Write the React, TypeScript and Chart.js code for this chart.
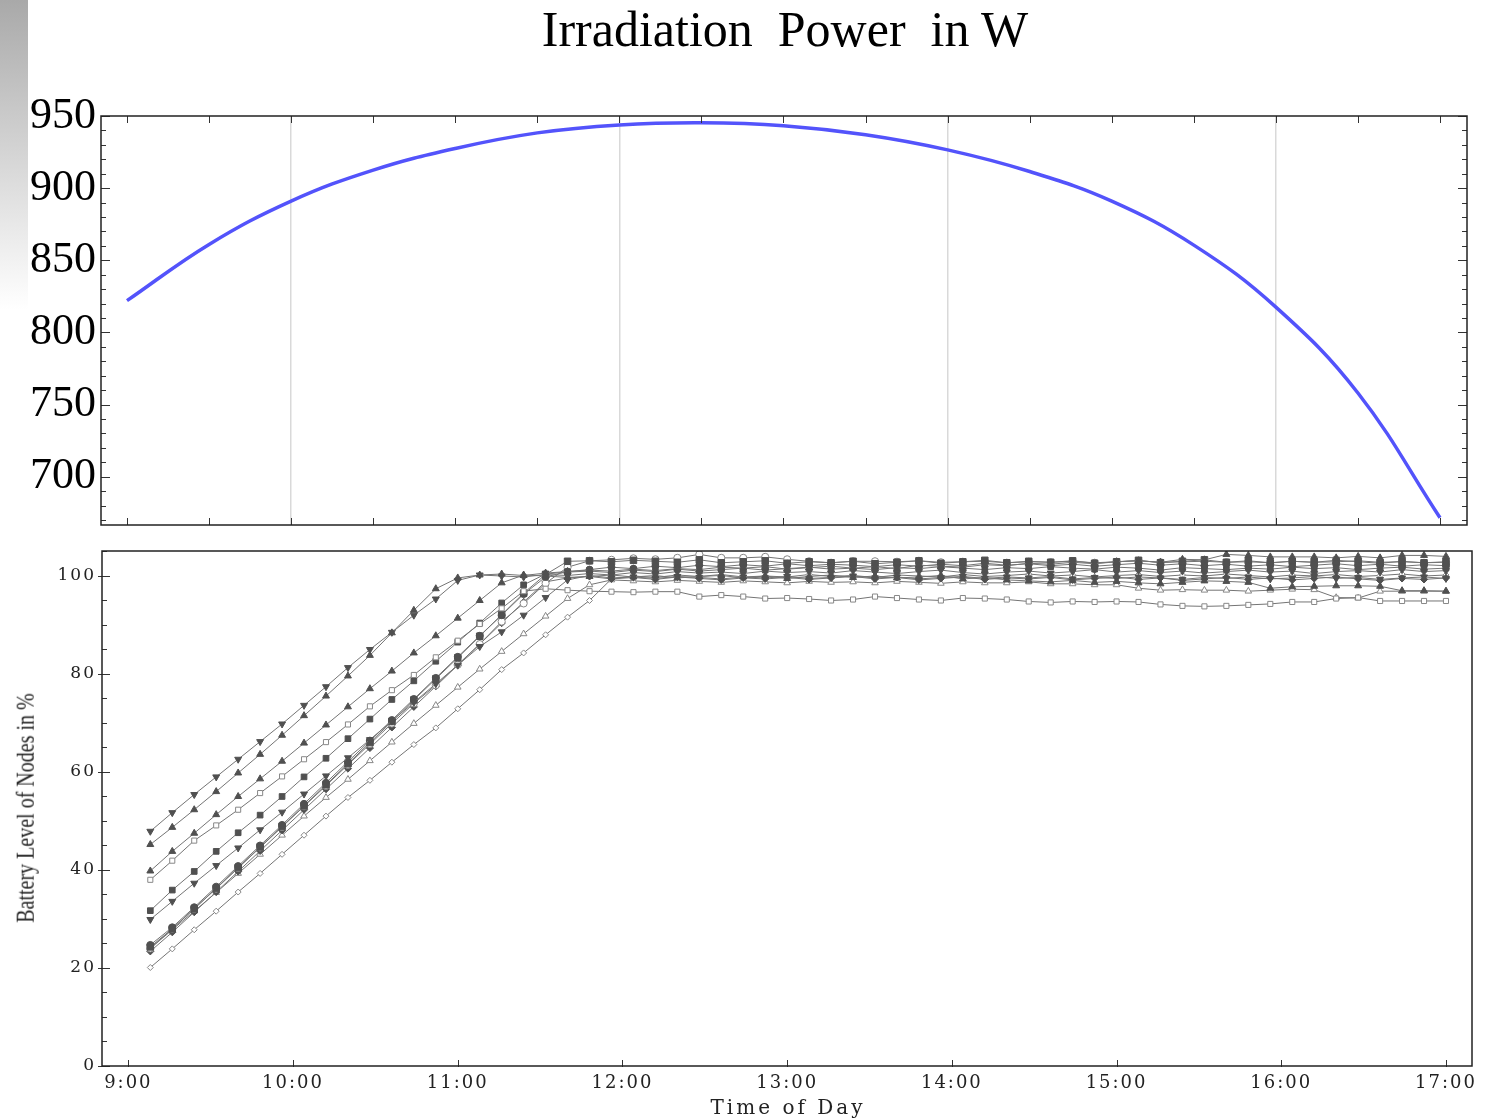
import React, { useEffect, useRef } from "react";
import { Chart, registerables } from "chart.js";

Chart.register(...registerables);

// ---------- Top chart: irradiation power ----------
const POWER_TIMES = ["9:00", "9:30", "10:00", "10:30", "11:00", "11:30", "12:00", "12:30", "13:00", "13:30", "14:00", "14:30", "15:00", "15:30", "16:00", "16:30", "17:00"];
const POWER_W = [822, 861, 891, 912.5, 927.5, 938.3, 943.8, 945.3, 943.3, 937, 926.5, 911.5, 891, 860.5, 817.5, 758, 671.5];
const POWER_Y_LABELS = [700, 750, 800, 850, 900, 950];
const POWER_GRID_HOURS = [10, 12, 14, 16];

// ---------- Bottom chart: battery levels ----------
const HOUR_TICKS = [9, 10, 11, 12, 13, 14, 15, 16, 17];
const HOUR_LABELS = ["9:00", "10:00", "11:00", "12:00", "13:00", "14:00", "15:00", "16:00", "17:00"];
const BATTERY_Y_LABELS = [0, 20, 40, 60, 80, 100];

const SAMPLE_TIMES = [
  "9:08", "9:16", "9:24", "9:32", "9:40", "9:48", "9:56", "10:04", "10:12", "10:20",
  "10:28", "10:36", "10:44", "10:52", "11:00", "11:08", "11:16", "11:24", "11:32", "11:40",
  "11:48", "11:56", "12:04", "12:12", "12:20", "12:28", "12:36", "12:44", "12:52", "13:00",
  "13:08", "13:16", "13:24", "13:32", "13:40", "13:48", "13:56", "14:04", "14:12", "14:20",
  "14:28", "14:36", "14:44", "14:52", "15:00", "15:08", "15:16", "15:24", "15:32", "15:40",
  "15:48", "15:56", "16:04", "16:12", "16:20", "16:28", "16:36", "16:44", "16:52", "17:00",
];

const NODE_A = [
  45.2, 48.7, 52.3, 56.0, 59.8, 63.6, 67.5, 71.5, 75.5, 79.6,
  83.8, 88.4, 93.0, 97.4, 99.6, 100.2, 100.4, 100.1, 100.6, 100.9,
  101.2, 101.0, 101.4, 101.1, 101.5, 101.3, 101.8, 101.6, 101.9, 101.4,
  101.7, 102.0, 101.6, 101.9, 101.5, 102.2, 102.0, 101.8, 102.3, 102.1,
  102.6, 102.4, 102.8, 102.5, 102.9, 103.1, 102.8, 103.4, 103.3, 104.4,
  104.2, 103.9, 103.9, 103.9, 103.7, 104.0, 103.7, 104.2, 104.2, 104.0,
];
const NODE_B = [
  47.9, 51.7, 55.4, 59.0, 62.6, 66.2, 69.8, 73.6, 77.4, 81.3,
  85.0, 88.5, 92.0, 95.3, 99.1, 100.2, 100.0, 99.8, 100.3, 100.1,
  100.5, 100.2, 100.7, 100.4, 100.9, 100.6, 100.8, 100.5, 101.0, 100.7,
  100.9, 100.6, 101.1, 100.8, 100.5, 100.9, 101.2, 100.7, 100.4, 100.8,
  101.0, 100.6, 100.9, 101.3, 100.8, 101.1, 100.7, 101.0, 100.6, 100.9,
  101.2, 100.8, 101.0, 100.5, 100.9, 101.1, 100.8, 101.3, 100.9, 101.1,
];
const NODE_C = [
  39.8, 43.8, 47.5, 51.3, 55.0, 58.6, 62.2, 65.9, 69.6, 73.3,
  77.0, 80.6, 84.3, 87.8, 91.4, 95.0, 98.6, 100.2, 100.0, 99.7,
  99.9, 100.2, 99.8, 100.1, 99.6, 99.9, 100.3, 99.8, 100.0, 99.5,
  99.9, 100.2, 99.7, 100.0, 99.6, 99.8, 100.1, 99.4, 99.7, 99.2,
  99.0, 98.8, 99.1, 98.7, 98.9, 98.6, 98.4, 98.7, 99.0, 98.9,
  98.7, 97.5, 97.8, 97.9, 98.0, 98.0, 97.9, 97.0, 97.0, 96.9,
];
const NODE_D = [
  38.0, 41.9, 46.0, 49.1, 52.3, 55.7, 59.1, 62.6, 66.1, 69.7,
  73.4, 76.7, 79.8, 83.4, 86.8, 90.2, 93.4, 96.9, 97.4, 97.1,
  96.9, 96.8, 96.7, 96.8, 96.8, 95.8, 96.1, 95.8, 95.4, 95.5,
  95.3, 95.0, 95.2, 95.8, 95.5, 95.2, 95.0, 95.5, 95.4, 95.2,
  94.8, 94.6, 94.8, 94.7, 94.8, 94.7, 94.2, 93.9, 93.8, 93.9,
  94.1, 94.3, 94.7, 94.7, 95.4, 95.6, 94.9, 94.9, 94.9, 94.9,
];
const NODE_E = [
  31.7, 35.9, 39.7, 43.8, 47.6, 51.2, 55.0, 59.0, 62.8, 66.8,
  70.8, 74.8, 78.6, 82.6, 86.5, 90.4, 94.5, 98.2, 100.4, 100.8,
  101.0, 100.7, 101.2, 100.9, 101.4, 101.0, 101.3, 101.6, 101.2, 101.5,
  101.8, 101.4, 101.6, 101.3, 101.7, 101.5, 101.9, 101.6, 101.3, 101.7,
  101.5, 101.9, 101.6, 101.4, 101.8, 101.6, 101.2, 101.7, 101.5, 101.3,
  101.6, 101.4, 101.8, 101.5, 101.7, 101.3, 101.6, 101.8, 101.4, 101.6,
];
const NODE_F = [
  29.9, 33.6, 37.3, 40.9, 44.5, 48.2, 51.8, 55.5, 59.2, 62.9,
  66.6, 70.4, 74.2, 78.0, 81.8, 85.6, 88.6, 92.0, 95.6, 99.2,
  100.1, 99.6, 99.8, 99.5, 99.9, 99.7, 99.4, 99.8, 99.6, 99.9,
  99.5, 99.7, 100.0, 99.6, 99.8, 99.4, 99.7, 99.9, 99.5, 99.8,
  99.6, 99.9, 99.4, 99.7, 99.5, 99.8, 99.6, 99.3, 99.7, 99.5,
  99.8, 99.4, 99.6, 99.9, 99.5, 99.7, 99.3, 99.6, 99.8, 99.5,
];
const NODE_G = [
  24.7, 28.3, 32.4, 36.6, 40.8, 45.0, 49.2, 53.5, 57.8, 62.1,
  66.4, 70.6, 74.9, 79.2, 83.5, 87.8, 92.0, 96.3, 99.8, 100.9,
  101.3, 101.8, 101.5, 102.0, 101.7, 102.2, 101.9, 102.3, 102.0, 102.5,
  102.1, 102.4, 102.2, 101.9, 102.3, 102.0, 102.4, 102.1, 102.6, 102.2,
  102.5, 102.1, 102.4, 102.0, 102.3, 102.6, 102.2, 102.5, 102.1, 102.4,
  102.0, 102.3, 101.9, 102.2, 102.5, 102.1, 102.4, 102.0, 102.3, 102.1,
];
const NODE_H = [
  24.3, 28.0, 32.1, 36.3, 40.5, 44.7, 48.9, 53.1, 57.4, 61.7,
  66.0, 70.3, 74.7, 79.0, 83.3, 87.7, 92.1, 96.5, 100.3, 103.0,
  103.1, 102.9, 103.2, 103.0, 102.8, 103.3, 102.7, 102.9, 103.1, 102.6,
  102.9, 102.7, 103.0, 102.5, 102.8, 103.1, 102.6, 102.9, 103.2, 102.7,
  103.0, 102.8, 103.1, 102.6, 102.9, 103.2, 102.7, 103.0, 103.3, 102.8,
  103.1, 102.7, 103.0, 102.8, 103.2, 102.9, 102.6, 103.0, 102.7, 102.9,
];
const NODE_I = [
  24.0, 28.0, 32.1, 36.2, 40.4, 44.6, 48.8, 53.0, 57.2, 61.5,
  65.7, 69.9, 74.0, 77.7, 81.9, 86.1, 90.7, 94.4, 98.5, 101.8,
  103.1, 103.3, 103.6, 103.4, 103.7, 104.4, 103.7, 103.7, 103.9, 103.4,
  103.0, 102.7, 103.0, 103.0, 102.9, 103.1, 102.8, 102.9, 103.0, 102.7,
  102.9, 102.8, 103.0, 102.7, 102.9, 103.1, 102.8, 102.9, 103.0, 102.8,
  102.9, 102.7, 103.0, 102.8, 102.9, 103.1, 102.8, 102.9, 102.7, 102.8,
];
const NODE_J = [
  23.4, 27.3, 31.4, 35.5, 39.7, 43.9, 48.1, 52.3, 56.5, 60.7,
  64.9, 69.1, 73.3, 77.5, 81.8, 86.1, 90.4, 94.7, 98.8, 99.6,
  99.9, 99.4, 99.7, 99.3, 99.8, 99.5, 99.2, 99.6, 99.4, 99.7,
  99.3, 99.6, 99.9, 99.4, 99.7, 99.2, 99.5, 99.8, 99.3, 99.6,
  99.4, 99.7, 99.2, 99.5, 99.8, 99.3, 99.6, 99.1, 99.4, 99.7,
  99.3, 99.6, 99.2, 99.5, 99.8, 99.4, 99.1, 99.5, 99.3, 99.6,
];
const NODE_K = [
  24.0, 27.8, 31.6, 35.4, 39.3, 43.2, 47.1, 51.0, 54.8, 58.5,
  62.3, 66.1, 69.9, 73.6, 77.3, 81.0, 84.6, 88.2, 91.8, 95.4,
  98.2, 99.2, 99.0, 98.8, 99.1, 98.9, 98.7, 99.0, 98.8, 98.6,
  98.9, 98.7, 98.8, 98.6, 98.9, 98.7, 98.5, 98.8, 98.6, 98.6,
  98.8, 98.4, 98.4, 98.2, 98.2, 97.5, 97.1, 97.2, 97.1, 97.1,
  96.9, 97.1, 97.3, 97.2, 95.6, 95.5, 96.9, 96.9, 96.9, 96.9,
];
const NODE_L = [
  20.1, 23.9, 27.8, 31.6, 35.5, 39.3, 43.2, 47.1, 51.0, 54.8,
  58.3, 62.0, 65.6, 69.0, 72.9, 76.8, 80.9, 84.3, 88.0, 91.6,
  95.0, 99.4, 100.0, 99.7, 100.2, 99.9, 100.1, 99.6, 100.0, 99.8,
  100.3, 99.9, 100.1, 99.7, 100.2, 100.0, 99.8, 100.3, 99.9, 100.1,
  100.4, 100.0, 100.2, 99.8, 100.1, 100.3, 99.9, 100.2, 100.0, 100.4,
  100.1, 99.8, 100.2, 100.0, 100.3, 99.9, 100.1, 100.4, 100.0, 100.2,
];

// marker style per node (kept apart from the data)
const NODES = [
  { values: NODE_A, marker: "triangle", rot: 0, open: false, r: 4 },
  { values: NODE_B, marker: "triangle", rot: 180, open: false, r: 4 },
  { values: NODE_C, marker: "triangle", rot: 0, open: false, r: 4 },
  { values: NODE_D, marker: "rect", rot: 0, open: true, r: 3.6 },
  { values: NODE_E, marker: "rect", rot: 0, open: false, r: 4 },
  { values: NODE_F, marker: "triangle", rot: 180, open: false, r: 4 },
  { values: NODE_G, marker: "circle", rot: 0, open: false, r: 3.5 },
  { values: NODE_H, marker: "rect", rot: 0, open: false, r: 4.6 },
  { values: NODE_I, marker: "circle", rot: 0, open: true, r: 3.6 },
  { values: NODE_J, marker: "rectRot", rot: 0, open: false, r: 3.6 },
  { values: NODE_K, marker: "triangle", rot: 0, open: true, r: 3.8 },
  { values: NODE_L, marker: "rectRot", rot: 0, open: true, r: 3 },
];

function toHours(t: string): number {
  const [h, m] = t.split(":").map(Number);
  return h + m / 60;
}

function fixWidth(w: number) {
  return (s: any) => {
    s.width = w;
    s.paddingTop = 0;
    s.paddingBottom = 0;
    s.paddingLeft = 0;
    s.paddingRight = 0;
  };
}
function fixHeight(h: number) {
  return (s: any) => {
    s.height = h;
    s.paddingTop = 0;
    s.paddingBottom = 0;
    s.paddingLeft = 0;
    s.paddingRight = 0;
  };
}

const topFrame = {
  id: "topFrame",
  afterDraw(chart: any) {
    const { ctx, chartArea: a, scales } = chart;
    ctx.save();
    ctx.strokeStyle = "#333";
    ctx.lineWidth = 1;
    ctx.beginPath();
    for (let v = 670; v <= 950; v += 10) {
      const py = Math.round(scales.y.getPixelForValue(v)) + 0.5;
      const len = v % 50 === 0 ? 9 : 5;
      ctx.moveTo(a.left, py);
      ctx.lineTo(a.left + len, py);
      ctx.moveTo(a.right, py);
      ctx.lineTo(a.right - len, py);
    }
    for (let h = 9; h <= 17; h += 0.5) {
      const px = Math.round(scales.x.getPixelForValue(h)) + 0.5;
      ctx.moveTo(px, a.top);
      ctx.lineTo(px, a.top + 7);
      ctx.moveTo(px, a.bottom);
      ctx.lineTo(px, a.bottom - 7);
    }
    ctx.stroke();
    ctx.lineWidth = 1.5;
    ctx.strokeStyle = "#222";
    ctx.strokeRect(a.left, a.top, a.right - a.left, a.bottom - a.top);
    ctx.restore();
  },
};

const bottomFrame = {
  id: "bottomFrame",
  beforeDraw(chart: any) {
    chart.ctx.letterSpacing = "2px";
  },
  afterDraw(chart: any) {
    const { ctx, chartArea: a, scales } = chart;
    ctx.save();
    ctx.strokeStyle = "#333";
    ctx.lineWidth = 1;
    ctx.beginPath();
    for (let v = 0; v <= 105; v += 5) {
      const py = Math.round(scales.y.getPixelForValue(v)) + 0.5;
      if (v % 20 === 0) {
        ctx.moveTo(a.left - 4, py);
        ctx.lineTo(a.left + 8, py);
      } else {
        ctx.moveTo(a.left, py);
        ctx.lineTo(a.left + 5, py);
      }
    }
    for (const h of HOUR_TICKS) {
      const px = Math.round(scales.x.getPixelForValue(h)) + 0.5;
      ctx.moveTo(px, a.bottom + 1);
      ctx.lineTo(px, a.bottom - 6);
    }
    ctx.stroke();
    ctx.lineWidth = 1.5;
    ctx.strokeStyle = "#222";
    ctx.strokeRect(a.left, a.top, a.right - a.left, a.bottom - a.top);
    ctx.restore();
  },
};

export default function App() {
  const topRef = useRef<HTMLCanvasElement>(null);
  const botRef = useRef<HTMLCanvasElement>(null);

  useEffect(() => {
    document.body.style.margin = "0";
    const topChart = new Chart(topRef.current as HTMLCanvasElement, {
      type: "line",
      data: {
        datasets: [
          {
            data: POWER_TIMES.map((t, i) => ({ x: toHours(t), y: POWER_W[i] })),
            borderColor: "#5353fb",
            borderWidth: 3.5,
            pointRadius: 0,
            tension: 0.4,
            fill: false,
          },
        ],
      },
      options: {
        responsive: false,
        animation: false,
        layout: { autoPadding: false, padding: { top: 116, right: 24, left: 0, bottom: 0 } },
        plugins: { legend: { display: false }, tooltip: { enabled: false }, title: { display: false } },
        scales: {
          x: {
            type: "linear",
            min: 8.8416,
            max: 17.1645,
            afterBuildTicks: (s: any) => {
              s.ticks = HOUR_TICKS.map((v) => ({ value: v }));
            },
            ticks: { display: false },
            grid: {
              color: (c: any) => (POWER_GRID_HOURS.includes(c.tick?.value) ? "#d9d9d9" : "rgba(0,0,0,0)"),
              lineWidth: 1.5,
              drawTicks: false,
            },
            border: { display: false },
            afterFit: fixHeight(15),
          },
          y: {
            type: "linear",
            min: 666.5,
            max: 950,
            afterBuildTicks: (s: any) => {
              s.ticks = POWER_Y_LABELS.map((v) => ({ value: v }));
            },
            ticks: { font: { family: "Liberation Serif", size: 44 }, color: "#000", padding: 5 },
            grid: { display: false, drawTicks: false },
            border: { display: false },
            afterFit: fixWidth(101),
          },
        },
      } as any,
      plugins: [topFrame],
    });

    const botChart = new Chart(botRef.current as HTMLCanvasElement, {
      type: "line",
      data: {
        datasets: NODES.map((n) => ({
          data: SAMPLE_TIMES.map((t, i) => ({ x: toHours(t), y: n.values[i] })),
          borderColor: "#747474",
          borderWidth: 1,
          pointStyle: n.marker as any,
          pointRotation: n.rot,
          pointRadius: n.r,
          pointBackgroundColor: n.open ? "#ffffff" : "#505050",
          pointBorderColor: n.open ? "#888888" : "#505050",
          pointBorderWidth: 1,
          tension: 0,
          fill: false,
        })),
      },
      options: {
        responsive: false,
        animation: false,
        layout: { autoPadding: false, padding: { top: 11, right: 19, left: 0, bottom: 0 } },
        plugins: { legend: { display: false }, tooltip: { enabled: false }, title: { display: false } },
        scales: {
          x: {
            type: "linear",
            min: 8.84,
            max: 17.158,
            afterBuildTicks: (s: any) => {
              s.ticks = HOUR_TICKS.map((v) => ({ value: v }));
            },
            ticks: {
              font: { family: "DejaVu Serif", size: 18 },
              color: "#222",
              padding: 7,
              maxRotation: 0,
              autoSkip: false,
              callback: (v: any) => HOUR_LABELS[HOUR_TICKS.indexOf(Number(v))] ?? "",
            },
            grid: { display: false, drawTicks: false },
            border: { display: false },
            afterFit: fixHeight(53),
          },
          y: {
            type: "linear",
            min: 0,
            max: 105.1,
            afterBuildTicks: (s: any) => {
              s.ticks = BATTERY_Y_LABELS.map((v) => ({ value: v }));
            },
            ticks: { font: { family: "DejaVu Serif", size: 17 }, color: "#222", padding: 6 },
            grid: { display: false, drawTicks: false },
            border: { display: false },
            afterFit: fixWidth(102),
          },
        },
      } as any,
      plugins: [bottomFrame],
    });

    return () => {
      topChart.destroy();
      botChart.destroy();
    };
  }, []);

  return (
    <div style={{ position: "absolute", left: 0, top: 0, width: 1491, height: 1119, background: "#fff", overflow: "hidden" }}>
      <div
        style={{
          position: "absolute",
          left: 0,
          top: 0,
          width: 28,
          height: 310,
          background: "linear-gradient(to bottom, #a9a9a9 0%, #c8c8c8 35%, #e6e6e6 70%, #ffffff 100%)",
        }}
      />
      <canvas ref={topRef} width={1491} height={540} style={{ position: "absolute", left: 0, top: 0, width: 1491, height: 540 }} />
      <canvas ref={botRef} width={1491} height={579} style={{ position: "absolute", left: 0, top: 540, width: 1491, height: 579 }} />
      <div
        style={{
          position: "absolute",
          left: 785,
          top: 4,
          transform: "translateX(-50%)",
          fontFamily: "'Liberation Serif', serif",
          fontSize: 50,
          lineHeight: "50px",
          whiteSpace: "pre",
          color: "#000",
        }}
      >
        {"Irradiation  Power  in W"}
      </div>
      <div
        style={{
          position: "absolute",
          left: 788,
          top: 1107,
          transform: "translate(-50%, -50%)",
          fontFamily: "'DejaVu Serif', serif",
          fontSize: 20,
          letterSpacing: "3px",
          lineHeight: "22px",
          whiteSpace: "pre",
          color: "#222",
        }}
      >
        Time of Day
      </div>
      <div
        style={{
          position: "absolute",
          left: 25,
          top: 808,
          transform: "translate(-50%, -50%) rotate(-90deg) scale(1, 1.3)",
          fontFamily: "'Liberation Serif', serif",
          fontSize: 20,
          lineHeight: "20px",
          whiteSpace: "pre",
          color: "#222",
        }}
      >
        Battery Level of Nodes in %
      </div>
    </div>
  );
}
